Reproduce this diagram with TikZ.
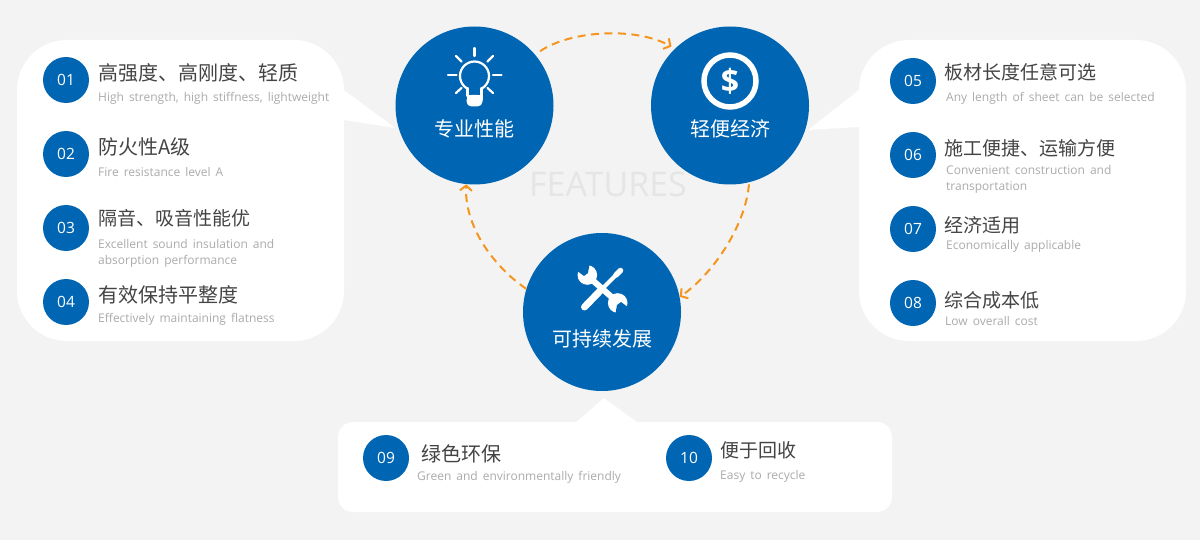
\documentclass[tikz,border=0pt]{standalone}
\usepackage{fontspec}
\setmainfont{Open Sans}
\newfontfamily\cjk{Noto Sans CJK SC}
\newfontfamily\subfamily[WordSpace=1.6]{Open Sans}
\usetikzlibrary{arrows.meta}
\definecolor{bgc}{HTML}{F3F3F3}
\definecolor{bluec}{HTML}{0066B3}
\definecolor{orangec}{HTML}{F7941D}
\definecolor{titlec}{HTML}{444444}
\definecolor{subc}{HTML}{ABABAB}
\tikzset{
	bigdot/.style={circle,fill=bluec,minimum size=158pt,inner sep=0pt},
	biglabel/.style={text=white,inner sep=0pt,font=\cjk\fontsize{20}{20}\selectfont},
	numdot/.style={circle,fill=bluec,minimum size=46pt,inner sep=0pt,text=white,font=\fontsize{15.5}{15.5}\selectfont},
	title/.style={anchor=west,inner sep=0pt,yshift=-0.2pt,text=titlec,font=\cjk\fontsize{20}{20}\selectfont},
	smalltitle/.style={title,font=\cjk\fontsize{19}{19}\selectfont},
	sub/.style={anchor=west,inner sep=0pt,yshift=-1pt,text=subc,align=left,font=\subfamily\fontsize{12}{16}\selectfont},
	flow/.style={->,orangec,line width=2pt,dash pattern=on 8pt off 5.5pt},
	bubble/.style={fill=white},
	icon/.style={white,line width=2.2pt,line cap=round},
	>={Straight Barb[length=5pt,width=12pt,line width=2pt]}
}
\begin{document}
\begin{tikzpicture}[x=1pt,y=-1pt]
	\fill[bgc](0,0)rectangle(1200,540);
	\useasboundingbox(0,0)rectangle(1200,540);
	% bubbles
	\fill[bubble,rounded corners=50pt](17,40)rectangle(344,341);
	\fill[bubble](344,90)--(395,128)--(344,120)--cycle;
	\fill[bubble,rounded corners=50pt](859,40)rectangle(1186,341);
	\fill[bubble](859,90)--(808,130)--(859,127)--cycle;
	\fill[bubble,rounded corners=15pt](338,422)rectangle(892,512);
	\fill[bubble](574,424)--(604,398)--(637,422)--cycle;
	\node[text=black!10,inner sep=0pt,font=\fontsize{34}{34}\selectfont](head)at(608,184.5){FEATURES};
	% main circles
	\node[bigdot](c1)at(474.5,105.5){};
	\node[bigdot](c2)at(730,105.5){};
	\node[bigdot](c3)at(602,312){};
	\node[biglabel](l1)at(474.5,129){专业性能};
	\node[biglabel](l2)at(730,129){轻便经济};
	\node[biglabel](l3)at(602,339){可持续发展};
	% arrows
	\draw[flow,shorten <=6pt,shorten >=4pt](c1.40)..controls +(35,-24) and +(-40,-22)..(c2.134);
	\draw[flow,shorten <=2pt](c2.-76)..controls +(-4,45) and +(32,-22)..(c3.11);
	\draw[flow](c3.163)..controls +(-35,-24) and +(-2,40)..(c1.-96);
	% bulb
	\draw[icon](474.5,48)--(474.5,56);
	\draw[icon](448,75)--(456.5,75);
	\draw[icon](493,75)--(501.5,75);
	\draw[icon](456,56)--(461.5,61.5);
	\draw[icon](493,56)--(487.5,61.5);
	\draw[icon](456,93)--(461.5,88);
	\draw[icon](493,93)--(487.5,88);
	\draw[icon](474.5,76)circle(14.5pt);
	\fill[bluec](468.5,87)rectangle(480.5,93);
	\draw[icon](467.5,88)--(467.5,96);
	\draw[icon](481.5,88)--(481.5,96);
	\fill[white,rounded corners=5pt](466.5,95)--(482.5,95)--(482.5,106.5)--(466.5,106.5)--cycle;
	\fill[white](466.5,95)rectangle(482.5,100);
	% coin
	\draw[white,line width=5.5pt](730,81)circle(26pt);
	\node[text=white,inner sep=0pt,font=\bfseries\fontsize{32}{32}\selectfont](coin)at(730,81){\$};
	% tools
	\fill[white](587.3,275)circle(9.8pt);
	\fill[white](617.7,303)circle(9.8pt);
	\fill[bluec](589.3,265.7)--(588,273)--(584,276)--(579,272.3)--(572,268)--(585,255)--cycle;
	\fill[bluec](615.7,312.3)--(617,305)--(621,302)--(626,305.7)--(633,310)--(620,323)--cycle;
	\draw[white,line width=6pt](590,278)--(615,300);
	\draw[white,line width=7pt,line cap=round](584.5,307)--(600,291);
	\draw[white,line width=4pt](600,291)--(617,274);
	\draw[white,line width=5.5pt,line cap=round](616,275)--(620.5,270.5);
	% left items
	\node[numdot](n01)at(66,80){01};
	\node[numdot](n02)at(66,154){02};
	\node[numdot](n03)at(66,228){03};
	\node[numdot](n04)at(66,302){04};
	\node[title](t01)at(98,73){高强度、高刚度、轻质};
	\node[sub](s01)at(98,97){High strength, high stiffness, lightweight};
	\node[title](t02)at(98,147){防火性A级};
	\node[sub](s02)at(98,171){Fire resistance level A};
	\node[smalltitle](t03)at(98,218.5){隔音、吸音性能优};
	\node[sub](s03)at(98,252){Excellent sound insulation and\\absorption performance};
	\node[title](t04)at(98,295){有效保持平整度};
	\node[sub](s04)at(98,318){Effectively maintaining flatness};
	% right items
	\node[numdot](n05)at(913,81){05};
	\node[numdot](n06)at(913,155){06};
	\node[numdot](n07)at(913,229){07};
	\node[numdot](n08)at(913,303){08};
	\node[smalltitle](t05)at(944,72){板材长度任意可选};
	\node[sub](s05)at(946,97){Any length of sheet can be selected};
	\node[smalltitle](t06)at(944,148){施工便捷、运输方便};
	\node[sub](s06)at(946,178){Convenient construction and\\transportation};
	\node[smalltitle](t07)at(944,225){经济适用};
	\node[sub](s07)at(946,245){Economically applicable};
	\node[smalltitle](t08)at(944,300){综合成本低};
	\node[sub](s08)at(945,320){Low overall cost};
	% bottom items
	\node[numdot](n09)at(386,458){09};
	\node[numdot](n10)at(689,458){10};
	\node[title](t09)at(421,453.5){绿色环保};
	\node[sub](s09)at(417,476){Green and environmentally friendly};
	\node[smalltitle](t10)at(720,450){便于回收};
	\node[sub](s10)at(720,475){Easy to recycle};
\end{tikzpicture}
\end{document}
